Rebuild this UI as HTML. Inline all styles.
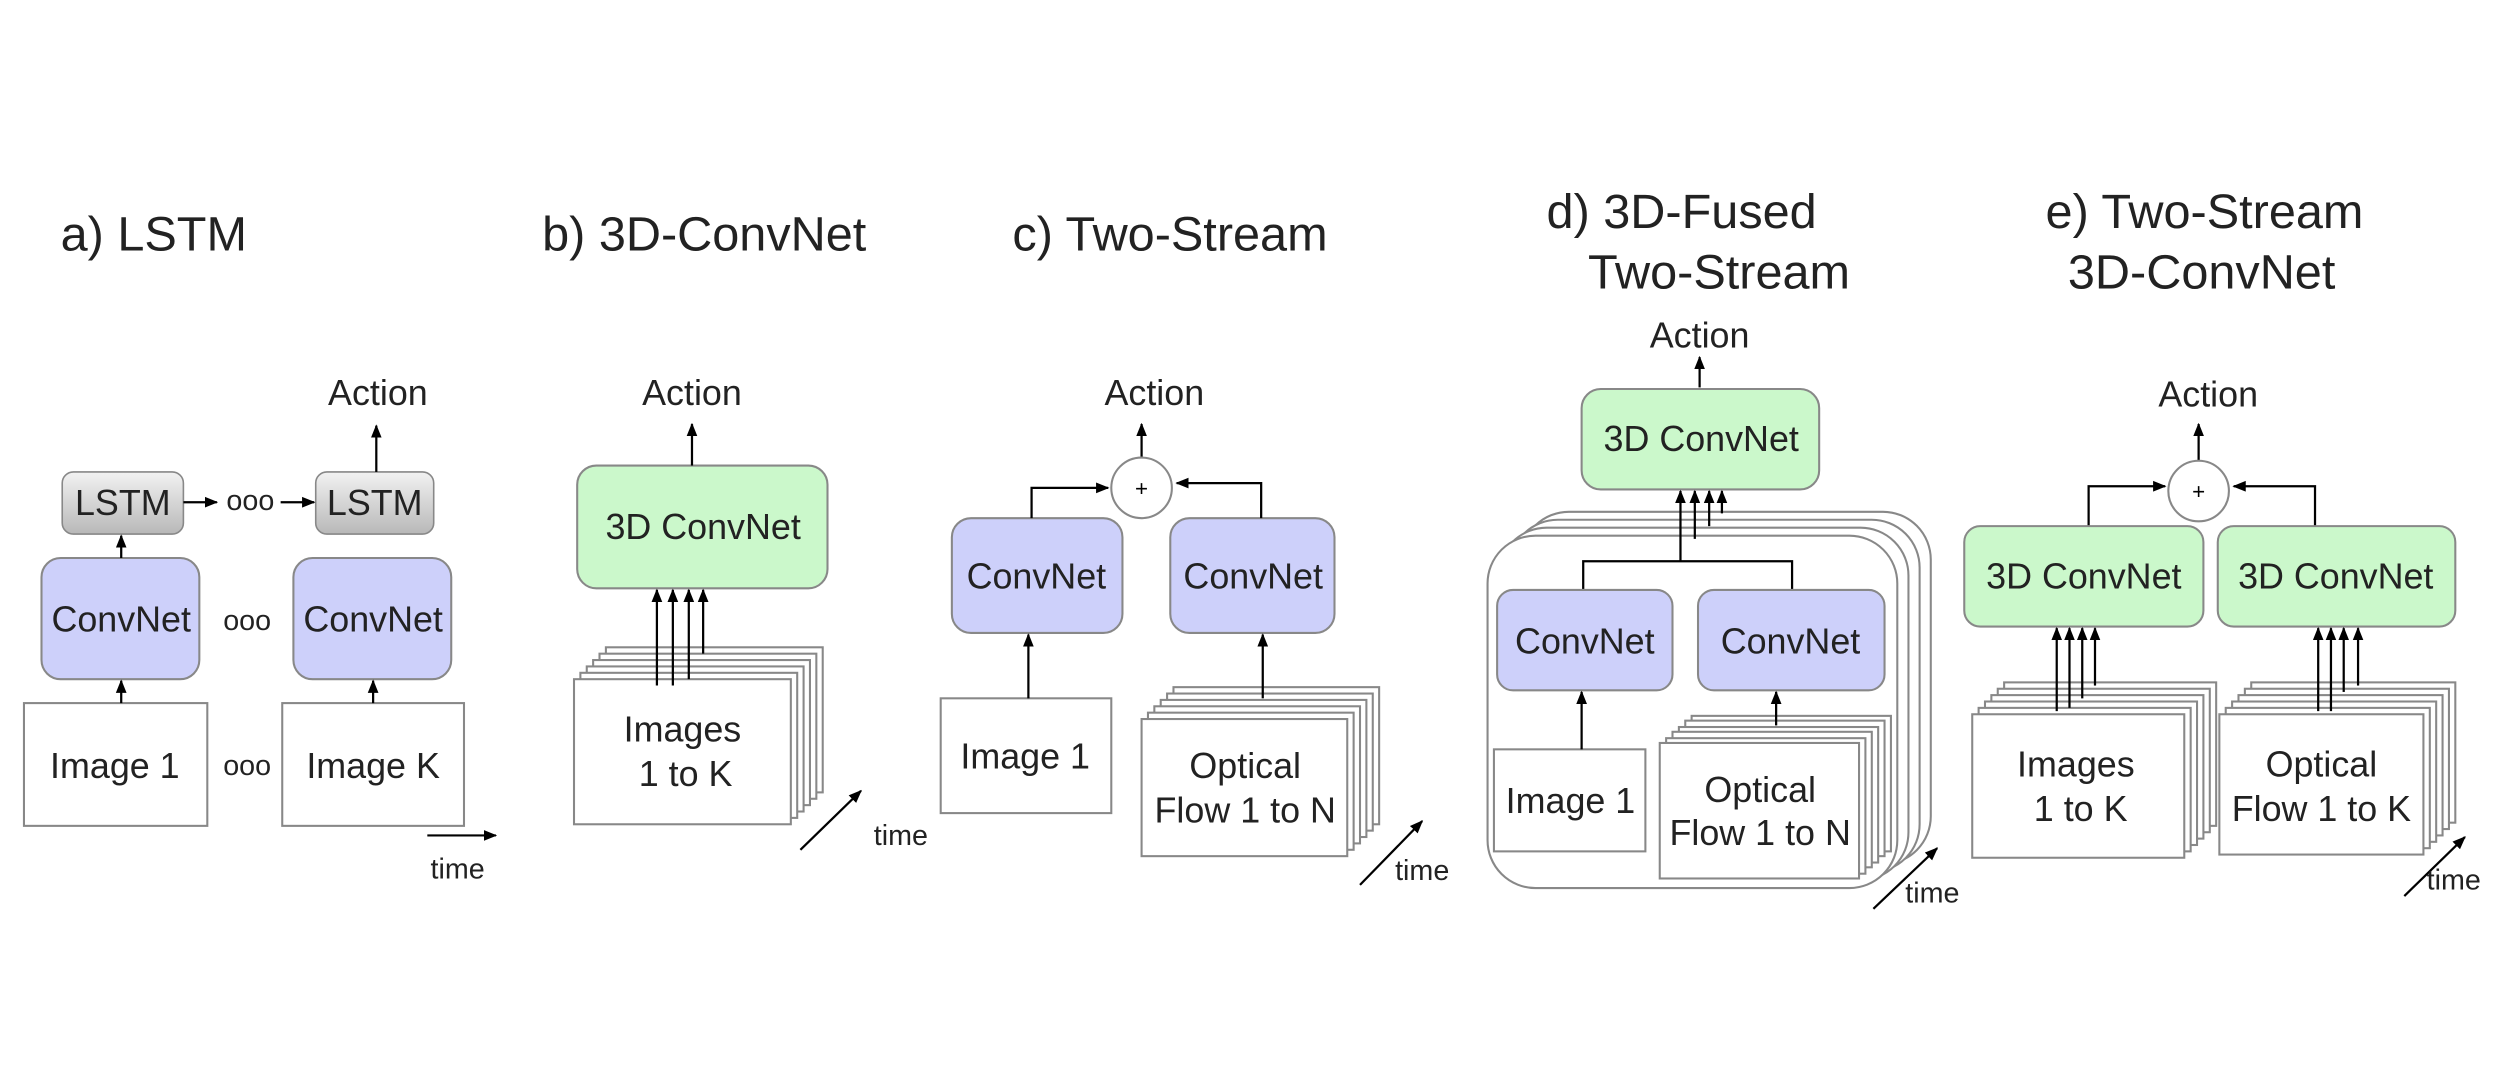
<!DOCTYPE html>
<html><head><meta charset="utf-8"><style>html,body{margin:0;padding:0;background:#fff}svg{display:block}</style></head>
<body>
<svg width="2500" height="1080" viewBox="0 0 1568 677.4" xmlns="http://www.w3.org/2000/svg" font-family="Liberation Sans, sans-serif">
<defs>
<marker id="a" viewBox="0 0 10 10" refX="9" refY="5" markerWidth="6" markerHeight="6" orient="auto-start-reverse"><path d="M0,1 L10,5 L0,9 z" fill="#000"/></marker>
<linearGradient id="g" x1="0" y1="0" x2="0" y2="1"><stop offset="0" stop-color="#f2f2f2"/><stop offset="1" stop-color="#b8b8b8"/></linearGradient>
</defs>
<style>
.t{font-size:30.5px;fill:#222}
.l{font-size:22.5px;fill:#222;text-anchor:middle}
.s{font-size:18px;fill:#222}
.w{fill:#fff;stroke:#888;stroke-width:1.3}
.b{fill:#cdd0fa;stroke:#888;stroke-width:1.3}
.gr{fill:#cbf8cb;stroke:#888;stroke-width:1.3}
.k{stroke:#000;stroke-width:1.4;fill:none}
</style>
<rect width="1568" height="678" fill="#fff"/>

<!-- a -->
<text class="t" x="38" y="157">a) LSTM</text>
<rect class="w" x="15" y="441" width="115" height="77"/>
<text class="l" x="72" y="488">Image 1</text>
<rect class="w" x="177" y="441" width="114" height="77"/>
<text class="l" x="234" y="488">Image K</text>
<text class="s" x="155" y="486" text-anchor="middle">ooo</text>
<rect class="b" x="26" y="350" width="99" height="76" rx="12"/>
<text class="l" x="76" y="396">ConvNet</text>
<rect class="b" x="184" y="350" width="99" height="76" rx="12"/>
<text class="l" x="234" y="396">ConvNet</text>
<text class="s" x="155" y="395" text-anchor="middle">ooo</text>
<rect x="39" y="296" width="76" height="39" rx="7" fill="url(#g)" stroke="#888"/>
<text class="l" x="77" y="323">LSTM</text>
<rect x="198" y="296" width="74" height="39" rx="7" fill="url(#g)" stroke="#888"/>
<text class="l" x="235" y="323">LSTM</text>
<text class="s" x="157" y="320" text-anchor="middle">ooo</text>
<line class="k" x1="76" y1="441" x2="76" y2="427" marker-end="url(#a)"/>
<line class="k" x1="76" y1="350" x2="76" y2="336" marker-end="url(#a)"/>
<line class="k" x1="234" y1="441" x2="234" y2="427" marker-end="url(#a)"/>
<line class="k" x1="115" y1="315" x2="136" y2="315" marker-end="url(#a)"/>
<line class="k" x1="176" y1="315" x2="197" y2="315" marker-end="url(#a)"/>
<line class="k" x1="236" y1="296" x2="236" y2="267" marker-end="url(#a)"/>
<text class="l" x="237" y="254">Action</text>
<line class="k" x1="268" y1="524" x2="311" y2="524" marker-end="url(#a)"/>
<text class="s" x="287" y="551" text-anchor="middle">time</text>

<!-- b -->
<text class="t" x="340" y="157">b) 3D-ConvNet</text>
<rect class="w" x="380" y="406" width="136" height="91"/>
<rect class="w" x="376" y="410" width="136" height="91"/>
<rect class="w" x="372" y="414" width="136" height="91"/>
<rect class="w" x="368" y="418" width="136" height="91"/>
<rect class="w" x="364" y="422" width="136" height="91"/>
<rect class="w" x="360" y="426" width="136" height="91"/>
<text class="l" x="428" y="465">Images</text>
<text class="l" x="430" y="493">1 to K</text>
<rect class="gr" x="362" y="292" width="157" height="77" rx="12"/>
<text class="l" x="441" y="338">3D ConvNet</text>
<line class="k" x1="412" y1="430" x2="412" y2="370" marker-end="url(#a)"/>
<line class="k" x1="422" y1="430" x2="422" y2="370" marker-end="url(#a)"/>
<line class="k" x1="432" y1="426" x2="432" y2="370" marker-end="url(#a)"/>
<line class="k" x1="441" y1="410" x2="441" y2="370" marker-end="url(#a)"/>
<line class="k" x1="434" y1="292" x2="434" y2="266" marker-end="url(#a)"/>
<text class="l" x="434" y="254">Action</text>
<line class="k" x1="502" y1="533" x2="540" y2="496" marker-end="url(#a)"/>
<text class="s" x="548" y="530">time</text>

<!-- c -->
<text class="t" x="635" y="157">c) Two-Stream</text>
<text class="l" x="724" y="254">Action</text>
<line class="k" x1="716" y1="287" x2="716" y2="266" marker-end="url(#a)"/>
<circle cx="716" cy="306" r="19" fill="#fff" stroke="#888" stroke-width="1.3"/>
<text x="716" y="311" font-size="14" text-anchor="middle">+</text>
<rect class="b" x="597" y="325" width="107" height="72" rx="12"/>
<text class="l" x="650" y="369">ConvNet</text>
<rect class="b" x="734" y="325" width="103" height="72" rx="12"/>
<text class="l" x="786" y="369">ConvNet</text>
<polyline class="k" points="647,325 647,306 695,306" marker-end="url(#a)"/>
<polyline class="k" points="791,325 791,303 738,303" marker-end="url(#a)"/>
<rect class="w" x="590" y="438" width="107" height="72"/>
<text class="l" x="643" y="482">Image 1</text>
<line class="k" x1="645" y1="438" x2="645" y2="398" marker-end="url(#a)"/>
<rect class="w" x="736" y="431" width="129" height="86"/>
<rect class="w" x="732" y="435" width="129" height="86"/>
<rect class="w" x="728" y="439" width="129" height="86"/>
<rect class="w" x="724" y="443" width="129" height="86"/>
<rect class="w" x="720" y="447" width="129" height="86"/>
<rect class="w" x="716" y="451" width="129" height="86"/>
<text class="l" x="781" y="488">Optical</text>
<text class="l" x="781" y="516">Flow 1 to N</text>
<line class="k" x1="792" y1="438" x2="792" y2="398" marker-end="url(#a)"/>
<line class="k" x1="853" y1="555" x2="892" y2="515" marker-end="url(#a)"/>
<text class="s" x="875" y="552">time</text>

<!-- d -->
<text class="t" x="970" y="143">d) 3D-Fused</text>
<text class="t" x="996" y="181">Two-Stream</text>
<text class="l" x="1066" y="218">Action</text>
<line class="k" x1="1066" y1="243" x2="1066" y2="224" marker-end="url(#a)"/>
<rect class="gr" x="992" y="244" width="149" height="63" rx="12"/>
<text class="l" x="1067" y="283">3D ConvNet</text>
<rect class="w" x="954" y="321" width="257" height="221" rx="30"/>
<rect class="w" x="947" y="326" width="257" height="221" rx="30"/>
<rect class="w" x="940" y="331" width="257" height="221" rx="30"/>
<rect class="w" x="933" y="336" width="257" height="221" rx="30"/>
<line class="k" x1="1054" y1="352" x2="1054" y2="308" marker-end="url(#a)"/>
<line class="k" x1="1063" y1="338" x2="1063" y2="308" marker-end="url(#a)"/>
<line class="k" x1="1072" y1="330" x2="1072" y2="308" marker-end="url(#a)"/>
<line class="k" x1="1080" y1="322" x2="1080" y2="308" marker-end="url(#a)"/>
<polyline class="k" points="993,370 993,352 1124,352 1124,370"/>
<rect class="b" x="939" y="370" width="110" height="63" rx="10"/>
<text class="l" x="994" y="410">ConvNet</text>
<rect class="b" x="1065" y="370" width="117" height="63" rx="10"/>
<text class="l" x="1123" y="410">ConvNet</text>
<rect class="w" x="937" y="470" width="95" height="64"/>
<text class="l" x="985" y="510">Image 1</text>
<line class="k" x1="992" y1="470" x2="992" y2="434" marker-end="url(#a)"/>
<rect class="w" x="1061" y="449" width="125" height="85"/>
<rect class="w" x="1057" y="452" width="125" height="85"/>
<rect class="w" x="1053" y="456" width="125" height="85"/>
<rect class="w" x="1049" y="459" width="125" height="85"/>
<rect class="w" x="1045" y="463" width="125" height="85"/>
<rect class="w" x="1041" y="466" width="125" height="85"/>
<text class="l" x="1104" y="503">Optical</text>
<text class="l" x="1104" y="530">Flow 1 to N</text>
<line class="k" x1="1114" y1="455" x2="1114" y2="434" marker-end="url(#a)"/>
<line class="k" x1="1175" y1="570" x2="1215" y2="532" marker-end="url(#a)"/>
<text class="s" x="1195" y="566">time</text>

<!-- e -->
<text class="t" x="1283" y="143">e) Two-Stream</text>
<text class="t" x="1297" y="181">3D-ConvNet</text>
<text class="l" x="1385" y="255">Action</text>
<line class="k" x1="1379" y1="289" x2="1379" y2="266" marker-end="url(#a)"/>
<circle cx="1379" cy="308" r="19" fill="#fff" stroke="#888" stroke-width="1.3"/>
<text x="1379" y="313" font-size="14" text-anchor="middle">+</text>
<polyline class="k" points="1310,330 1310,305 1358,305" marker-end="url(#a)"/>
<polyline class="k" points="1452,330 1452,305 1401,305" marker-end="url(#a)"/>
<rect class="gr" x="1232" y="330" width="150" height="63" rx="10"/>
<text class="l" x="1307" y="369">3D ConvNet</text>
<rect class="gr" x="1391" y="330" width="149" height="63" rx="10"/>
<text class="l" x="1465" y="369">3D ConvNet</text>
<rect class="w" x="1257" y="428" width="133" height="90"/>
<rect class="w" x="1253" y="432" width="133" height="90"/>
<rect class="w" x="1249" y="436" width="133" height="90"/>
<rect class="w" x="1245" y="440" width="133" height="90"/>
<rect class="w" x="1241" y="444" width="133" height="90"/>
<rect class="w" x="1237" y="448" width="133" height="90"/>
<text class="l" x="1302" y="487">Images</text>
<text class="l" x="1305" y="515">1 to K</text>
<line class="k" x1="1290" y1="446" x2="1290" y2="394" marker-end="url(#a)"/>
<line class="k" x1="1298" y1="444" x2="1298" y2="394" marker-end="url(#a)"/>
<line class="k" x1="1306" y1="438" x2="1306" y2="394" marker-end="url(#a)"/>
<line class="k" x1="1314" y1="430" x2="1314" y2="394" marker-end="url(#a)"/>
<rect class="w" x="1412" y="428" width="128" height="88"/>
<rect class="w" x="1408" y="432" width="128" height="88"/>
<rect class="w" x="1404" y="436" width="128" height="88"/>
<rect class="w" x="1400" y="440" width="128" height="88"/>
<rect class="w" x="1396" y="444" width="128" height="88"/>
<rect class="w" x="1392" y="448" width="128" height="88"/>
<text class="l" x="1456" y="487">Optical</text>
<text class="l" x="1456" y="515">Flow 1 to K</text>
<line class="k" x1="1454" y1="446" x2="1454" y2="394" marker-end="url(#a)"/>
<line class="k" x1="1462" y1="446" x2="1462" y2="394" marker-end="url(#a)"/>
<line class="k" x1="1470" y1="434" x2="1470" y2="394" marker-end="url(#a)"/>
<line class="k" x1="1479" y1="430" x2="1479" y2="394" marker-end="url(#a)"/>
<line class="k" x1="1508" y1="562" x2="1546" y2="525" marker-end="url(#a)"/>
<text class="s" x="1522" y="558">time</text>
</svg>
</body></html>
